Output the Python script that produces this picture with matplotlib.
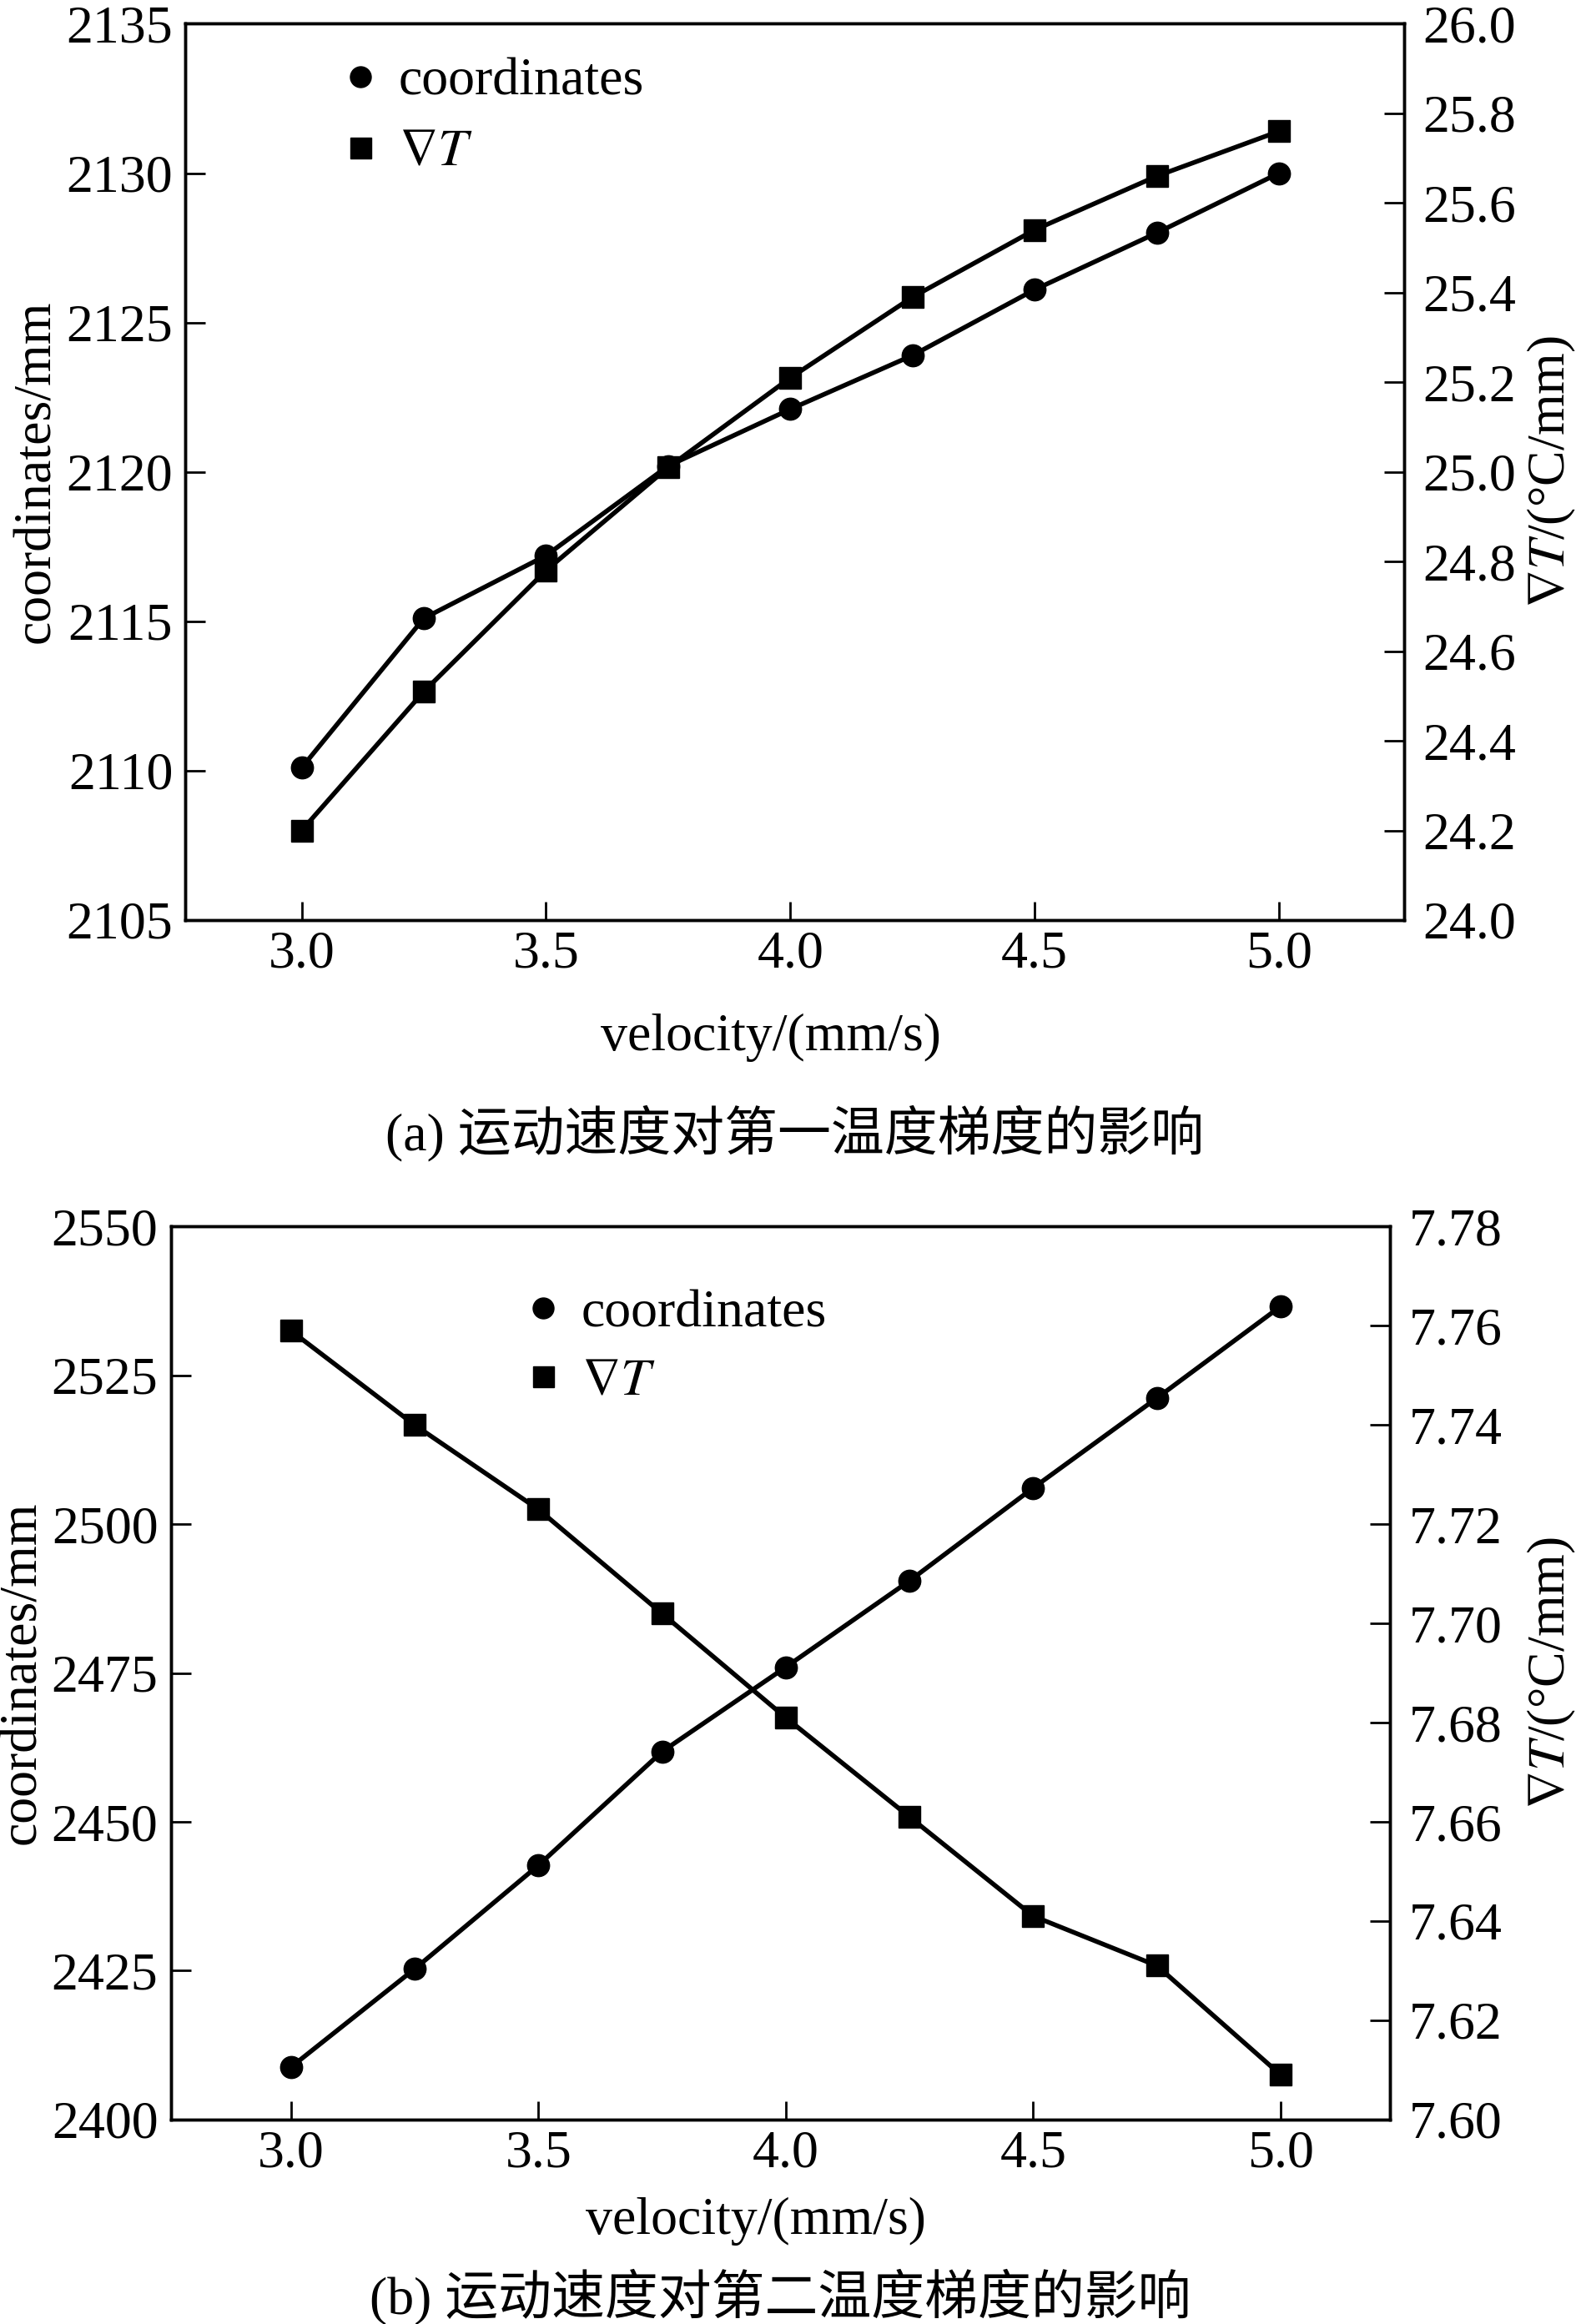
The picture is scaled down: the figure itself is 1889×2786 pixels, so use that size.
import matplotlib
matplotlib.use("Agg")
import matplotlib.pyplot as plt
from matplotlib.lines import Line2D
from matplotlib.ticker import FormatStrFormatter

# Fonty: Times-podobny krój + zapas dla znaków chińskich
plt.rcParams['font.family'] = ['Liberation Serif', 'DejaVu Serif', 'Noto Sans CJK SC']
plt.rcParams['mathtext.fontset'] = 'stix'

# Dane
velocity = [3.0, 3.25, 3.5, 3.75, 4.0, 4.25, 4.5, 4.75, 5.0]
x_ticks = [3.0, 3.5, 4.0, 4.5, 5.0]

coord_a = [2110.1, 2115.1, 2117.2, 2120.2, 2122.1, 2123.9, 2126.1, 2128.0, 2130.0]
grad_a = [24.20, 24.51, 24.78, 25.01, 25.21, 25.39, 25.54, 25.66, 25.76]

coord_b = [2408.8, 2425.3, 2442.7, 2461.8, 2476.0, 2490.5, 2506.1, 2521.2, 2536.6]
grad_b = [7.759, 7.740, 7.723, 7.702, 7.681, 7.661, 7.641, 7.631, 7.609]

coord_ticks_a = [2105, 2110, 2115, 2120, 2125, 2130, 2135]
grad_ticks_a = [24.0, 24.2, 24.4, 24.6, 24.8, 25.0, 25.2, 25.4, 25.6, 25.8, 26.0]
coord_ticks_b = [2400, 2425, 2450, 2475, 2500, 2525, 2550]
grad_ticks_b = [7.60, 7.62, 7.64, 7.66, 7.68, 7.70, 7.72, 7.74, 7.76, 7.78]

FS = 46
LW = 4
GRAD_LABEL = r'$\nabla T$'
# w mathtext brak ℃, więc stopień + C
GRAD_AXIS_LABEL = r'$\nabla T$/(°C/mm)'


def style_axes(ax, side):
    for sp in ax.spines.values():
        sp.set_linewidth(2.5)
    ax.tick_params(axis='y', direction='in', length=17, width=2, labelsize=FS,
                   left=(side == 'left'), right=(side == 'right'),
                   labelleft=(side == 'left'), labelright=(side == 'right'),
                   pad=11 if side == 'left' else 16)
    ax.tick_params(axis='x', direction='in', length=16, width=2, labelsize=FS,
                   top=False, pad=9)


def draw_panel(ax, coord, grad, xlim, ylim1, ylim2, yt1, yt2, fmt2,
               legend_xy, label_space, xlabel_y, right_label_x, caption):
    ax2 = ax.twinx()
    ax.plot(velocity, coord, color='k', lw=LW, marker='o', ms=19)
    ax2.plot(velocity, grad, color='k', lw=LW, marker='s', ms=19)

    ax.set_xlim(*xlim)
    ax.set_xticks(x_ticks)
    ax.xaxis.set_major_formatter(FormatStrFormatter('%.1f'))
    ax.set_ylim(*ylim1)
    ax.set_yticks(yt1)
    ax2.set_ylim(*ylim2)
    ax2.set_yticks(yt2)
    ax2.yaxis.set_major_formatter(FormatStrFormatter(fmt2))

    style_axes(ax, 'left')
    style_axes(ax2, 'right')

    ax.set_xlabel('velocity/(mm/s)', fontsize=FS)
    ax.set_ylabel('coordinates/mm', fontsize=FS)
    ax2.set_ylabel(GRAD_AXIS_LABEL, fontsize=FS)
    ax.xaxis.set_label_coords(0.48, xlabel_y)
    ax.yaxis.set_label_coords(-0.102, 0.5)
    ax2.yaxis.set_label_coords(right_label_x, 0.5)

    handles = [Line2D([], [], color='k', ls='none', marker='o', ms=18),
               Line2D([], [], color='k', ls='none', marker='s', ms=18)]
    ax2.legend(handles, ['coordinates', GRAD_LABEL], loc='upper left',
               bbox_to_anchor=legend_xy, frameon=False, fontsize=FS,
               handlelength=0.8, handletextpad=0.32, borderpad=0,
               borderaxespad=0, labelspacing=label_space)

    ax.text(0.5, caption[1], caption[0], transform=ax.transAxes,
            ha='center', va='center', fontsize=46)
    return ax2


fig = plt.figure(figsize=(18.9, 27.86), dpi=100)

ax_a = fig.add_axes([0.1177, 0.6041, 0.7728, 0.3857])
draw_panel(ax_a, coord_a, grad_a, (2.7625, 5.256), (2105, 2135), (24.0, 26.0),
           coord_ticks_a, grad_ticks_a, '%.1f', (0.126, 0.962), 0.41,
           -0.104, 1.10, ('(a) 运动速度对第一温度梯度的影响', -0.238))

ax_b = fig.add_axes([0.1083, 0.0880, 0.7732, 0.3842])
draw_panel(ax_b, coord_b, grad_b, (2.757, 5.221), (2400, 2550), (7.60, 7.78),
           coord_ticks_b, grad_ticks_b, '%.2f', (0.288, 0.93), 0.37,
           -0.087, 1.1116, ('(b) 运动速度对第二温度梯度的影响', -0.199))

fig.savefig('out.png', dpi=100)
